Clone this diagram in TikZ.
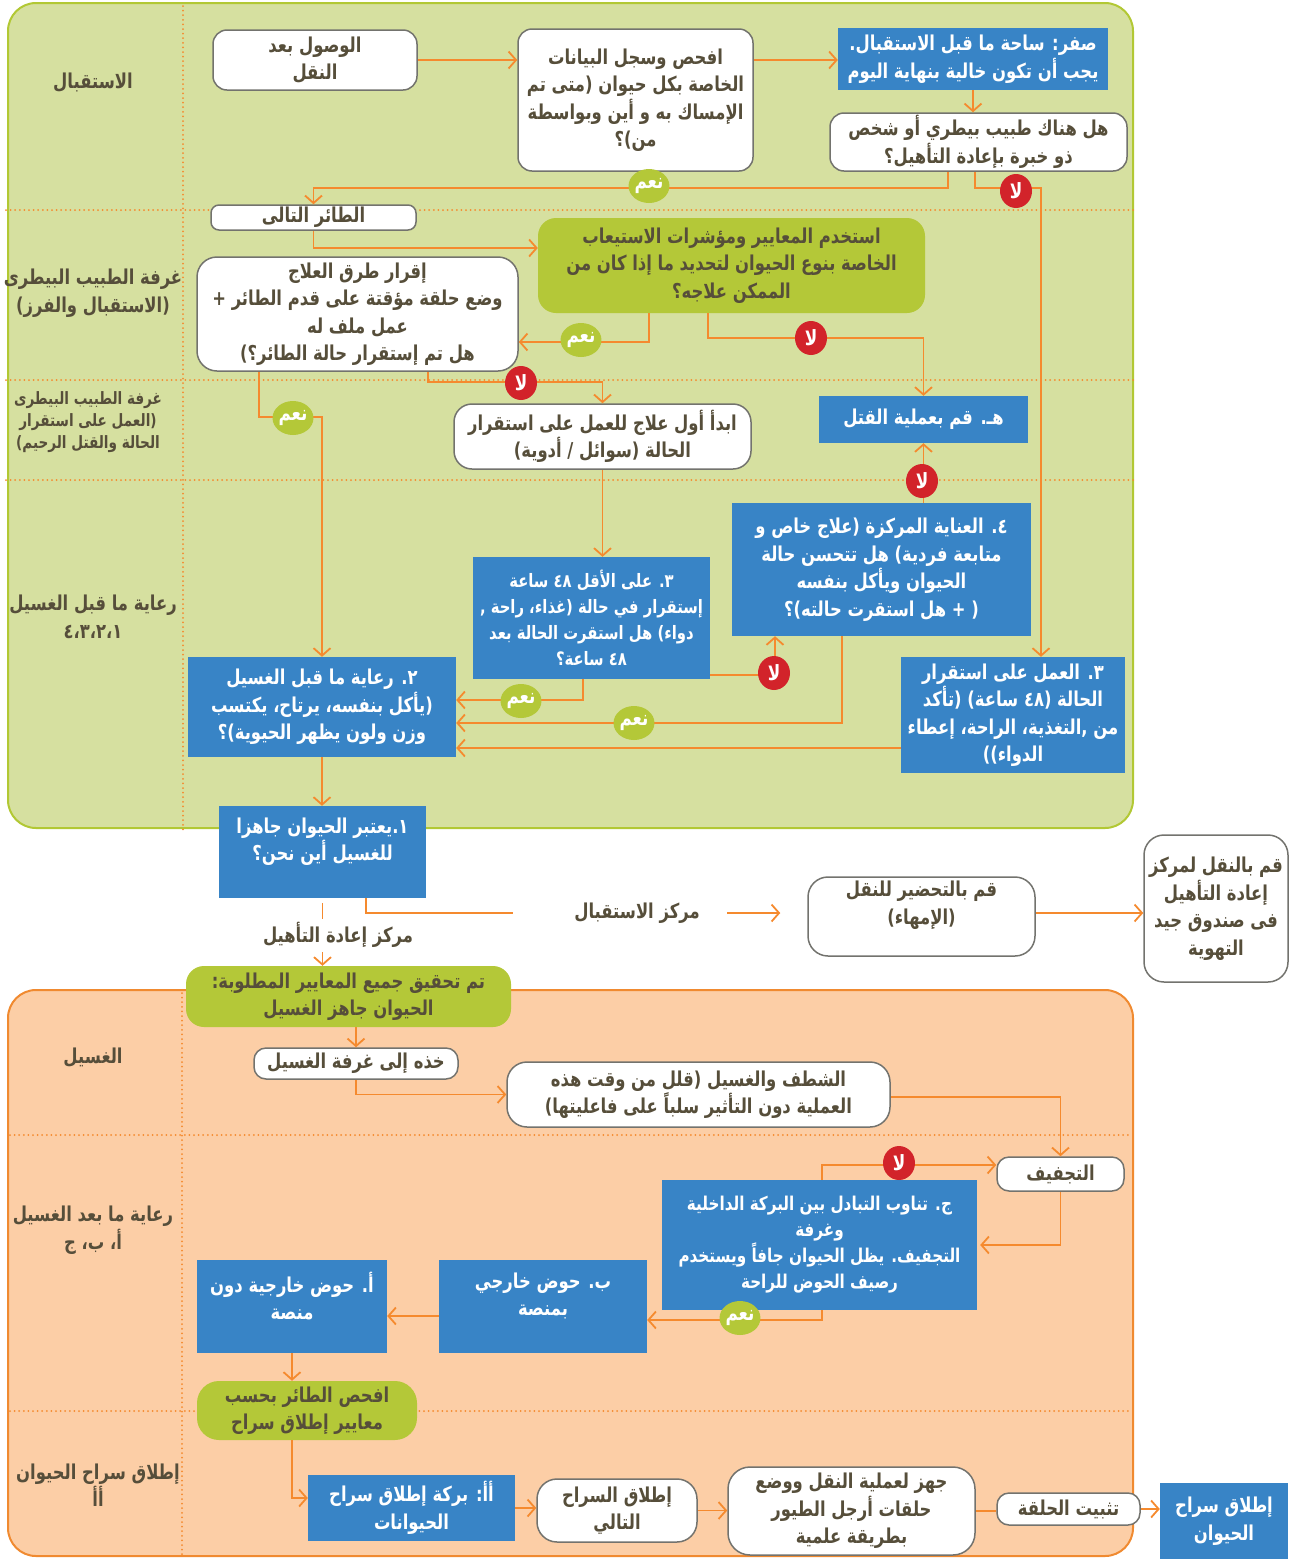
\documentclass[tikz,border=0pt]{standalone}
\usepackage{fontspec}
\newfontfamily\arabicfont[Script=Arabic,FakeStretch=0.8]{DejaVu Sans}
\TeXXeTstate=1
\usetikzlibrary{arrows.meta,calc,shapes.geometric}
\definecolor{greenbg}{RGB}{214,224,160}
\definecolor{greenborder}{RGB}{178,200,52}
\definecolor{greenbox}{RGB}{180,200,56}
\definecolor{bluebox}{RGB}{56,132,198}
\definecolor{peach}{RGB}{252,206,166}
\definecolor{peachborder}{RGB}{240,138,48}
\definecolor{orangeline}{RGB}{245,138,46}
\definecolor{redc}{RGB}{210,35,42}
\definecolor{txt}{RGB}{86,78,58}
\definecolor{boxedge}{RGB}{115,115,110}
\newcommand{\AR}[1]{\beginR #1\endR}
\begin{document}
\begin{tikzpicture}[x=1pt,y=-1pt,
  base/.style={align=center, inner sep=0pt, font=\arabicfont\bfseries\fontsize{20.5}{27.5}\selectfont},
  wbox/.style={base, draw=boxedge, line width=1.5pt, fill=white, rounded corners=14pt, text=txt},
  bbox/.style={base, fill=bluebox, text=white},
  gbox/.style={base, fill=greenbox, rounded corners=18pt, text=txt},
  lane/.style={base, text=txt},
  smalllane/.style={align=center, inner sep=0pt, text=txt, font=\arabicfont\bfseries\fontsize{17}{22}\selectfont},
  plain/.style={base, text=txt},
  wtext/.style={base, text=white},
  dtext/.style={base, text=txt},
  yesc/.style={ellipse, fill=greenbox, text=white, minimum width=32pt, minimum height=34pt, inner sep=0pt, font=\arabicfont\bfseries\fontsize{21}{21}\selectfont},
  noc/.style={ellipse, fill=redc, text=white, minimum width=32pt, minimum height=34pt, inner sep=0pt, font=\arabicfont\bfseries\fontsize{21}{21}\selectfont},
  conn/.style={draw=orangeline, line width=1.8pt, -{Straight Barb[length=7.5pt,width=17pt,line width=1.8pt]}},
  line/.style={draw=orangeline, line width=1.8pt},
  dots/.style={draw=orangeline, line width=2pt, dash pattern=on 0pt off 4.6pt, line cap=round}
]
\useasboundingbox (0,0) rectangle (1296,1559);
% regions
\fill[greenbg, draw=greenborder, line width=2pt, rounded corners=28pt] (8,3) rectangle (1133,828);
\fill[peach, draw=peachborder, line width=2pt, rounded corners=28pt] (8,990) rectangle (1133,1556);
% dotted lane separators
\draw[dots] (183,6) -- (183,832);
\draw[dots] (6,210) -- (1135,210);
\draw[dots] (6,380) -- (1135,380);
\draw[dots] (6,480) -- (1135,480);
\draw[dots] (182,993) -- (182,1556);
\draw[dots] (10,1135) -- (1131,1135);
\draw[dots] (10,1411) -- (1131,1411);
% lane labels
\node[lane] (l1) at (93,83) {\AR{الاستقبال}};
\node[lane] (l2) at (93,293) {\AR{غرفة الطبيب البيطرى}\\\AR{(الاستقبال والفرز)}};
\node[smalllane] (l3) at (88,422) {\AR{غرفة الطبيب البيطرى}\\\AR{(العمل على استقرار}\\\AR{الحالة والقتل الرحيم)}};
\node[lane] (l4) at (93,617) {\AR{رعاية ما قبل الغسيل}\\\AR{٤،٣،٢،١}};
\node[lane] (l5) at (93,1058) {\AR{الغسيل}};
\node[lane] (l6) at (93,1230) {\AR{رعاية ما بعد الغسيل}\\\AR{أ، ب، ج}};
\node[lane] (l7) at (98,1485) {\AR{إطلاق سراح الحيوان}\\\AR{أأ}};
% nodes
\node[wbox, minimum width=204pt, minimum height=60pt] (A) at (315,60) {\AR{الوصول بعد}\\\AR{النقل}};
\node[wbox, minimum width=235pt, minimum height=142pt] (B) at (635.5,100) {\AR{افحص وسجل البيانات}\\\AR{الخاصة بكل حيوان (متى تم}\\\AR{الإمساك به و أين وبواسطة}\\\AR{من)؟}};
\node[bbox, minimum width=270pt, minimum height=62pt] (C) at (973,59) {\AR{صفر: ساحة ما قبل الاستقبال.}\\\AR{يجب أن تكون خالية بنهاية اليوم}};
\node[wbox, minimum width=297pt, minimum height=58pt] (D) at (978.5,142) {\AR{هل هناك طبيب بيطري أو شخص}\\\AR{ذو خبرة بإعادة التأهيل؟}};
\node[wbox, rounded corners=8pt, minimum width=205pt, minimum height=25pt] (E) at (313.5,217.5) {\AR{الطائر التالى}};
\node[gbox, minimum width=387pt, minimum height=95pt] (F) at (731.5,265.5) {\AR{استخدم المعايير ومؤشرات الاستيعاب}\\\AR{الخاصة بنوع الحيوان لتحديد ما إذا كان من}\\\AR{الممكن علاجه؟}};
\node[wbox, rounded corners=20pt, minimum width=321pt, minimum height=114pt] (G) at (357.5,314) {\AR{إقرار طرق العلاج}\\\AR{وضع حلقة مؤقتة على قدم الطائر +}\\\AR{عمل ملف له}\\\AR{هل تم إستقرار حالة الطائر؟)}};
\node[bbox, minimum width=209pt, minimum height=47pt] (H) at (923.5,419.5) {\AR{هـ. قم بعملية القتل}};
\node[wbox, rounded corners=18pt, minimum width=297pt, minimum height=65pt] (I) at (602.5,436.5) {\AR{ابدأ أول علاج للعمل على استقرار}\\\AR{الحالة (سوائل / أدوية)}};
\node[bbox, minimum width=299pt, minimum height=133pt] (J) at (881.5,569.5) {\AR{٤. العناية المركزة (علاج خاص و}\\\AR{متابعة فردية) هل تتحسن حالة}\\\AR{الحيوان ويأكل بنفسه}\\\AR{( + هل استقرت حالته)؟}};
\node[bbox, minimum width=237pt, minimum height=122pt, font=\arabicfont\bfseries\fontsize{18.5}{26}\selectfont] (K) at (591.5,618) {\AR{٣. على الأقل ٤٨ ساعة}\\\AR{إستقرار في حالة (غذاء، راحة ,}\\\AR{دواء) هل استقرت الحالة بعد}\\\AR{٤٨ ساعة؟}};
\node[bbox, minimum width=224pt, minimum height=116pt] (L) at (1013,715) {\AR{٣. العمل على استقرار}\\\AR{الحالة (٤٨ ساعة) (تأكد}\\\AR{من ,التغذية، الراحة، إعطاء}\\\AR{الدواء))}};
\node[bbox, minimum width=268pt, minimum height=100pt] (M) at (322,707) {\AR{٢. رعاية ما قبل الغسيل}\\\AR{(يأكل بنفسه، يرتاح، يكتسب}\\\AR{وزن ولون يظهر الحيوية)؟}};
\node[bbox, minimum width=207pt, minimum height=92pt] (N) at (322.5,852) {};
\node[wtext] (Nt) at (322.5,841.5) {\AR{١.يعتبر الحيوان جاهزا}\\\AR{للغسيل أين نحن؟}};
\node[plain] (R1) at (338,935) {\AR{مركز إعادة التأهيل}};
\node[plain] (R2) at (637,913) {\AR{مركز الاستقبال}};
\node[wbox, rounded corners=20pt, minimum width=227pt, minimum height=79pt] (O) at (921.5,916.5) {};
\node[dtext] (Ot) at (921.5,905) {\AR{قم بالتحضير للنقل}\\\AR{(الإمهاء)}};
\node[wbox, rounded corners=20pt, minimum width=144pt, minimum height=147pt] (P) at (1216,908.5) {\AR{قم بالنقل لمركز}\\\AR{إعادة التأهيل}\\\AR{فى صندوق جيد}\\\AR{التهوية}};
\node[gbox, minimum width=325pt, minimum height=61pt] (Q) at (348.5,996.5) {\AR{تم تحقيق جميع المعايير المطلوبة:}\\\AR{الحيوان جاهز الغسيل}};
\node[wbox, rounded corners=12pt, minimum width=204pt, minimum height=31pt] (R) at (356,1063.5) {\AR{خذه إلى غرفة الغسيل}};
\node[wbox, rounded corners=20pt, minimum width=383pt, minimum height=65pt] (S) at (698.5,1094.5) {\AR{الشطف والغسيل (قلل من وقت هذه}\\\AR{العملية دون التأثير سلباً على فاعليتها)}};
\node[wbox, rounded corners=12pt, minimum width=127pt, minimum height=34pt] (T) at (1060.5,1174) {\AR{التجفيف}};
\node[bbox, minimum width=315pt, minimum height=130pt, font=\arabicfont\bfseries\fontsize{19}{26}\selectfont] (U) at (819.5,1245) {\AR{ج. تناوب التبادل بين البركة الداخلية}\\\AR{وغرفة}\\\AR{التجفيف. يظل الحيوان جافاً ويستخدم}\\\AR{رصيف الحوض للراحة}};
\node[bbox, minimum width=208pt, minimum height=93pt] (V) at (543,1306.5) {};
\node[wtext] (Vt) at (543,1296) {\AR{ب. حوض خارجي}\\\AR{بمنصة}};
\node[bbox, minimum width=190pt, minimum height=93pt] (W) at (292,1306.5) {};
\node[wtext] (Wt) at (292,1296) {\AR{أ. حوض خارجية دون}\\\AR{منصة}};
\node[gbox, rounded corners=22pt, minimum width=220pt, minimum height=59pt] (X) at (307,1410.5) {\AR{افحص الطائر بحسب}\\\AR{معايير إطلاق سراح}};
\node[bbox, minimum width=207pt, minimum height=66pt] (Y) at (411.5,1508) {\AR{أأ: بركة إطلاق سراح}\\\AR{الحيوانات}};
\node[wbox, rounded corners=20pt, minimum width=160pt, minimum height=63pt] (Z) at (617,1510.5) {\AR{إطلاق السراح}\\\AR{التالي}};
\node[wbox, rounded corners=22pt, minimum width=247pt, minimum height=88pt] (AA) at (851.5,1511) {\AR{جهز لعملية النقل ووضع}\\\AR{حلقات أرجل الطيور}\\\AR{بطريقة علمية}};
\node[wbox, rounded corners=12pt, minimum width=143pt, minimum height=32pt] (AB) at (1068.5,1509) {\AR{تثبيت الحلقة}};
\node[bbox, minimum width=128pt, minimum height=76pt] (AC) at (1224,1521) {\AR{إطلاق سراح}\\\AR{الحيوان}};
% helper coordinates
\coordinate (b1) at ([yshift=40pt]B.east);
\coordinate (o1) at ([yshift=3.5pt]O.east);
% connectors
\draw[conn] (A.east) -- (B.west |- A.east);
\draw[conn] (b1) -- (C.west |- b1);
\draw[conn] (C.south) -- (D.north -| C.south);
\draw[conn] ([xshift=-30.5pt]D.south) -- ++(0,16) -| (E.north);
\draw[conn] ([xshift=-3.5pt]D.south) -- ++(0,16) -| ([xshift=28pt]L.north);
\draw[conn] (E.south) |- ([yshift=17.5pt]F.west);
\draw[conn] ([xshift=-82.5pt]F.south) |- ([yshift=-28pt]G.east);
\draw[conn] ([xshift=-23.5pt]F.south) -- ++(0,25) -| (H.north);
\draw[conn] ([xshift=70.5pt]G.south) -- ++(0,10) -| (I.north);
\draw[conn] ([xshift=-98.5pt]G.south) -- ++(0,45) -| (M.north);
\draw[conn] (I.south) -- (K.north -| I.south);
\draw[conn] (H.south |- J.north) -- (H.south);
\draw[conn] ([yshift=-57pt]K.east) -| ([xshift=-106.5pt]J.south);
\draw[conn] ([xshift=-8.5pt]K.south) |- ([yshift=7pt]M.east);
\draw[conn] ([xshift=-39.5pt]J.south) |- ([yshift=-16pt]M.east);
\draw[conn] ([yshift=-33pt]L.west) -- ([yshift=-41pt]M.east);
\draw[conn] (M.south) -- (N.north -| M.south);
\draw[line] ([yshift=-5pt]N.south) -- ($(N.south |- R1.north)+(0,-3)$);
\draw[conn] ($(N.south |- R1.south)+(0,4)$) -- (N.south |- Q.north);
\draw[line] ([xshift=43.5pt]N.south) |- ([xshift=-124pt]R2.center);
\draw[conn] ([xshift=90pt]R2.center) -- ($(O.west |- R2.center)+(-27,0)$);
\draw[conn] (o1) -- (P.west |- o1);
\draw[conn] (R.north |- Q.south) -- (R.north);
\draw[conn] (R.south) |- (S.west);
\draw[conn] ([yshift=-2.5pt]S.east) -| (T.north);
\draw[conn] (T.south) |- ([xshift=3pt]U.east);
\draw[conn] ([xshift=2.5pt]U.north) |- ([yshift=9pt]T.west);
\draw[conn] ([xshift=2.5pt]U.south) |- ([yshift=-13.5pt]V.east);
\draw[conn] ([yshift=-9.5pt]V.west) -- ([yshift=-9.5pt]W.east);
\draw[conn] (W.south) -- (X.north -| W.south);
\draw[conn] (X.south -| W.south) |- ([yshift=10pt]Y.west);
\draw[conn] (Y.east) -- (Z.west |- Y.east);
\draw[conn] (Z.east) -- (AA.west |- Z.east);
\draw[line] (AA.east) -- (AB.west |- AA.east);
\draw[conn] (AB.east) -- (AC.west |- AB.east);
% yes / no markers
\node[yesc] (y1) at (649,186) {\AR{نعم}};
\node[noc] (n1) at (1016,191) {\AR{لا}};
\node[yesc] (y2) at (581,340) {\AR{نعم}};
\node[noc] (n2) at (811,338) {\AR{لا}};
\node[noc] (n3) at (521,383) {\AR{لا}};
\node[yesc] (y3) at (293,418) {\AR{نعم}};
\node[noc] (n4) at (922,481) {\AR{لا}};
\node[noc] (n5) at (774,673) {\AR{لا}};
\node[yesc] (y4) at (521,701) {\AR{نعم}};
\node[yesc] (y5) at (634,723) {\AR{نعم}};
\node[noc] (n6) at (899,1163) {\AR{لا}};
\node[yesc] (y6) at (740,1318) {\AR{نعم}};
\end{tikzpicture}
\end{document}
